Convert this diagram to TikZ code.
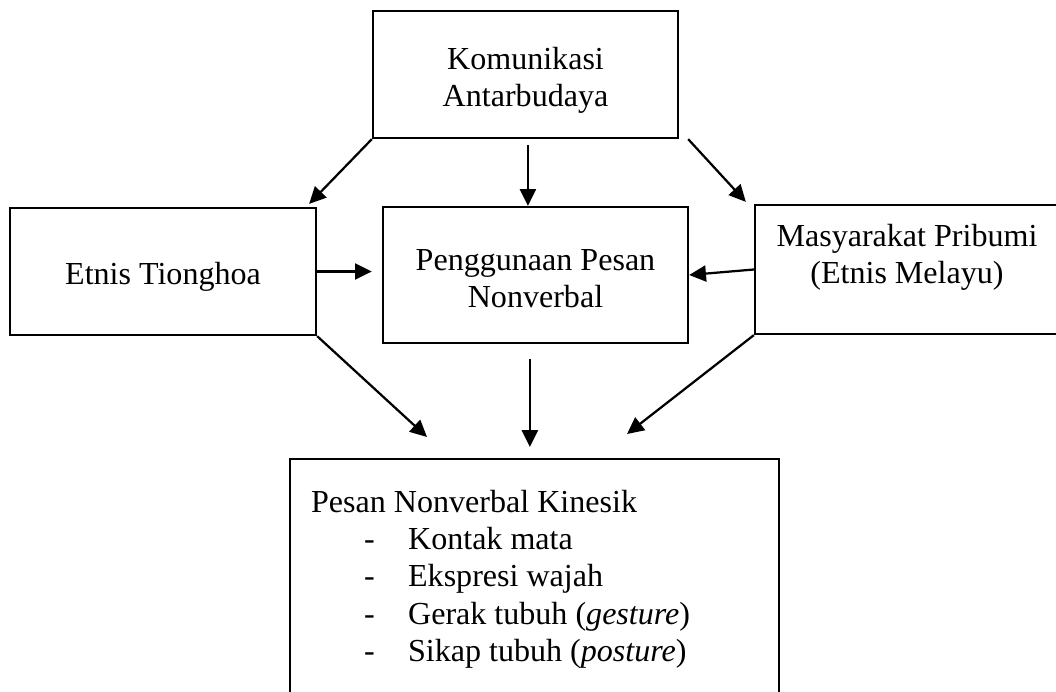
\documentclass[tikz,border=0pt]{standalone}
\usepackage{fontspec}
\setmainfont{Liberation Serif}
\usepackage{tikz}
\usetikzlibrary{shapes,arrows}
\usetikzlibrary{arrows.meta}
\usetikzlibrary{calc}

\newcommand{\butir}[1]{\makebox[2.425cm][l]{\hspace{1.325cm}-}#1}

\begin{document}
\begin{tikzpicture}[x=0.025cm,y=-0.025cm,
	every node/.style={font=\fontsize{22.8}{26.5}\selectfont},
	kotak/.style={draw,line width=1.6pt,inner sep=0pt},
	teks/.style={align=center,inner sep=0pt},
	panah/.style={line width=1.6pt,-{Triangle[length=0.42cm,width=0.4cm]}}]
	\useasboundingbox (0,0) rectangle (1056,691);
	\clip (0,0) rectangle (1056,691);
	
	% kotak-kotak
	\node[kotak,minimum width=7.625cm,minimum height=3.175cm] (kom) at (525.5,74.5) {};
	\node[kotak,minimum width=7.65cm,minimum height=3.175cm] (etnis) at (163,271.5) {};
	\node[kotak,minimum width=7.625cm,minimum height=3.4cm] (peng) at (535.5,275) {};
	\node[kotak,minimum width=7.6cm,minimum height=3.225cm] (mas) at (907,269.5) {};
	\node[kotak,anchor=north west,align=flush left,text width=11.175cm,inner xsep=0.525cm,inner ysep=0.775cm] (kin) at (289,458) {Pesan Nonverbal Kinesik\\\butir{Kontak mata}\\\butir{Ekspresi wajah}\\\butir{Gerak tubuh (\textit{gesture})}\\\butir{Sikap tubuh (\textit{posture})}\\ \strut};
	
	% teks
	\node[teks] (komteks) at ([yshift=-0.15cm]kom.center) {Komunikasi\\Antarbudaya};
	\node[teks] (etnisteks) at ([yshift=-0.125cm]etnis.center) {Etnis Tionghoa};
	\node[teks] (pengteks) at ([yshift=-0.1cm]peng.center) {Penggunaan Pesan\\Nonverbal};
	\node[teks] (masteks) at ([yshift=0.3cm]mas.center) {Masyarakat Pribumi\\(Etnis Melayu)};
	
	\coordinate (kiri) at (427,437);
	\coordinate (kanan) at (627,434);
	
	% panah
	\draw[panah] (kom.south west) -- ([xshift=-0.2cm,yshift=0.075cm]etnis.north east);
	\draw[panah,shorten <=0.15cm] ([xshift=0.06cm]kom.south) -- ([xshift=0.06cm]kom.south |- peng.north);
	\draw[panah] ([xshift=0.225cm]kom.south east) -- ([xshift=-0.2cm,yshift=0.05cm]mas.north west);
	\draw[panah,shorten >=0.25cm] (etnis.east) -- (etnis.east -| peng.west);
	\draw[panah] (mas.west) -- (peng.east);
	\draw[panah] (etnis.south east) -- (kiri);
	\draw[panah,shorten <=0.375cm,shorten >=0.275cm] ([xshift=-0.14cm]peng.south) -- ([xshift=-0.14cm]peng.south |- kin.north);
	\draw[panah] (mas.south west) -- (kanan);
\end{tikzpicture}
\end{document}
